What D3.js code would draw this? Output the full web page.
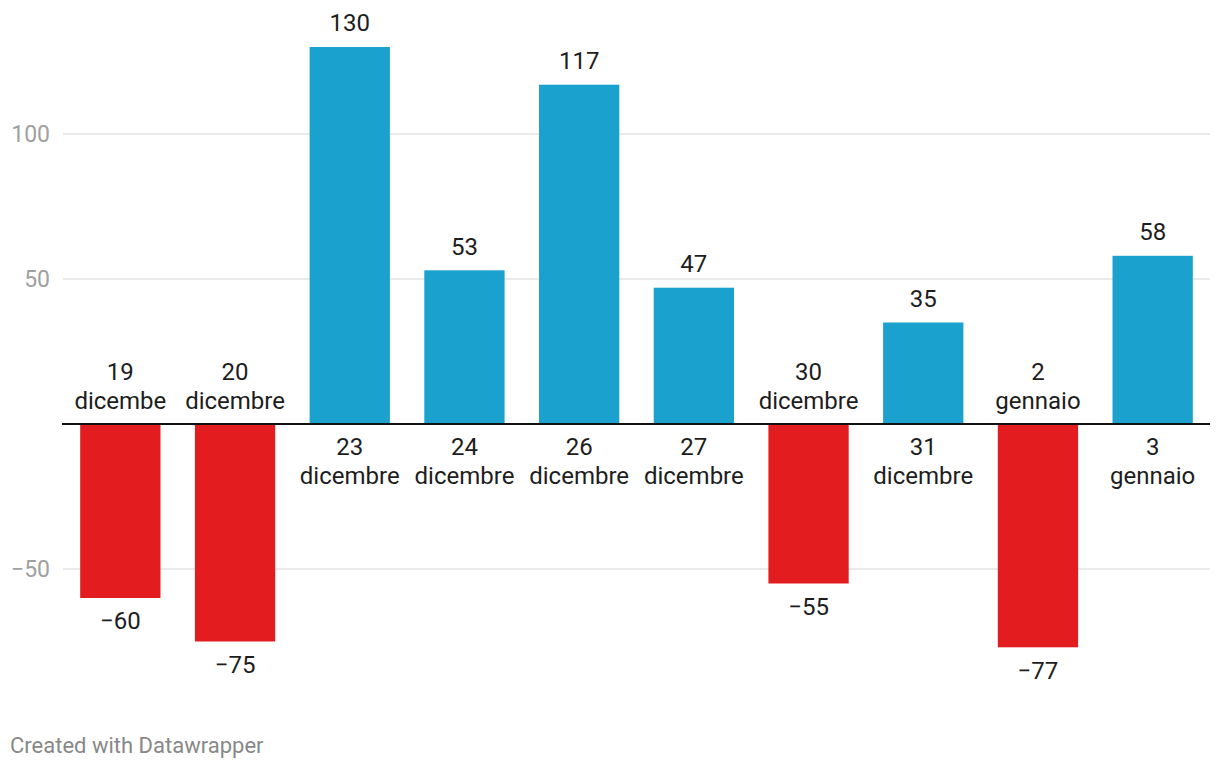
<!DOCTYPE html>
<html><head><meta charset="utf-8">
<script src="https://cdn.jsdelivr.net/npm/d3@7"></script>
<style>body{margin:0;background:#fff;font-family:Roboto,sans-serif}</style>
</head><body><svg id="c" width="1220" height="768"></svg>
<script>
const categories = ["19\ndicembe","20\ndicembre","23\ndicembre","24\ndicembre","26\ndicembre","27\ndicembre","30\ndicembre","31\ndicembre","2\ngennaio","3\ngennaio"];
const values = [-60,-75,130,53,117,47,-55,35,-77,58];
const yTicks = [-50,50,100];

const svg = d3.select("#c");
const x = d3.scaleBand().domain(categories).range([63,1210]).paddingInner(0.3).paddingOuter(0.15);
const y = d3.scaleLinear().domain([0,100]).range([424,134]);

// gridlines
svg.append("g").selectAll("line").data(yTicks).join("line")
  .attr("x1",63).attr("x2",1210).attr("y1",d=>y(d)).attr("y2",d=>y(d))
  .attr("stroke","#e3e3e3").attr("stroke-width",1.5);
svg.append("g").selectAll("text").data(yTicks).join("text")
  .attr("x",50).attr("y",d=>y(d)).attr("dy","0.35em").attr("text-anchor","end")
  .attr("fill","#a0a0a0").attr("font-size",23)
  .text(d=>d<0?"\u2212"+Math.abs(d):d);

// bars
svg.append("g").selectAll("rect").data(values).join("rect")
  .attr("x",(d,i)=>x(categories[i])).attr("width",x.bandwidth())
  .attr("y",d=>d>=0?y(d):y(0)).attr("height",d=>Math.abs(y(d)-y(0)))
  .attr("fill",d=>d>=0?"#1aa1ce":"#e21c1f");

// baseline
svg.append("line").attr("x1",62).attr("x2",1210).attr("y1",y(0)).attr("y2",y(0))
  .attr("stroke","#111").attr("stroke-width",2);

// value labels
svg.append("g").selectAll("text").data(values).join("text")
  .attr("x",(d,i)=>x(categories[i])+x.bandwidth()/2)
  .attr("y",d=>d>=0?y(d)-24:y(d)+23).attr("dy","0.35em")
  .attr("text-anchor","middle").attr("font-size",24).attr("fill","#1d1d1d")
  .text(d=>d<0?"\u2212"+Math.abs(d):d);

// category labels
const cg = svg.append("g");
categories.forEach((c,i)=>{
  const v = values[i];
  const lines = c.split("\n");
  const cx = x(c)+x.bandwidth()/2;
  const y0 = v>=0 ? y(0)+23 : y(0)-52;
  lines.forEach((l,j)=>{
    cg.append("text").attr("x",cx).attr("y",y0+j*28.5).attr("dy","0.35em")
      .attr("text-anchor","middle").attr("font-size",24).attr("fill","#1d1d1d").text(l);
  });
});

svg.append("text").attr("x",10).attr("y",745).attr("dy","0.35em")
  .attr("font-size",22).attr("fill","#888").text("Created with Datawrapper");
</script></body></html>
